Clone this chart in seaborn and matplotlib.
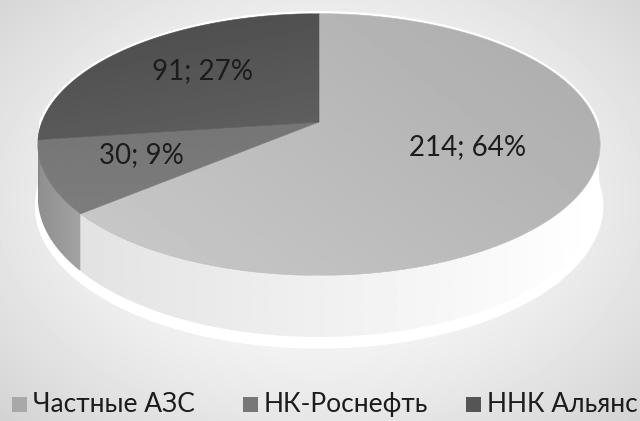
import numpy as np
import matplotlib
matplotlib.use("Agg")
import matplotlib.pyplot as plt
import seaborn as sns
from matplotlib.patches import Polygon, Rectangle

# ── data ─────────────────────────────────────────────
categories = ["Частные АЗС", "НК-Роснефть", "ННК Альянс"]
values = [214, 30, 91]
percents = [64, 9, 27]

# (start, end) grey levels for gradient fills
top_grey = [(0.67, 0.79), (0.46, 0.49), (0.29, 0.38)]
side_grey = [(0.89, 1.0), (0.56, 0.64), (0.52, 0.58)]
legend_colors = ["#a8a8a8", "#777777", "#555555"]

sns.set_theme(style="white")
plt.rcParams["font.family"] = ["Lato", "DejaVu Sans"]

fig = plt.figure(figsize=(6.4, 4.21), dpi=100)
ax = fig.add_axes([0, 0, 1, 1])
ax.set_xlim(0, 640)
ax.set_ylim(421, 0)
ax.axis("off")

# background: soft radial gradient
yy, xx = np.mgrid[0:421, 0:640]
r = np.sqrt(((xx - 320) / 420.0) ** 2 + ((yy - 200) / 300.0) ** 2)
bg = 1.0 - 0.16 * np.clip(r, 0, 1.2) ** 1.6
ax.imshow(bg, cmap="gray", vmin=0, vmax=1, extent=[0, 640, 421, 0], zorder=0)

# ── 3D pie geometry (perspective tilted disc) ───────
cx, cy = 319, 122
a, b, k = 277, 127, 0.172
depth = 51


def proj(theta_deg, z=0.0, grow=0.0):
    t = np.radians(theta_deg)
    u, v = np.cos(t), np.sin(t)
    s = 1.0 / (1.0 + k * v)
    x = cx + (a + grow) * u * s
    y = cy - (b + grow) * v * s + z * depth * s
    return np.column_stack([np.atleast_1d(x), np.atleast_1d(y)])


def grad_fill(poly, g0, g1, direction, z, edge=True):
    # polygon filled with a linear grey gradient (direction: unit vector in px)
    patch = Polygon(poly, closed=True, fc="none", ec="none", zorder=z)
    ax.add_patch(patch)
    x0, y0 = poly.min(axis=0)
    x1, y1 = poly.max(axis=0)
    gy, gx = np.mgrid[y0:y1:200j, x0:x1:200j]
    proj_d = gx * direction[0] + gy * direction[1]
    t = (proj_d - proj_d.min()) / max(proj_d.max() - proj_d.min(), 1e-9)
    img = g0 + (g1 - g0) * t
    im = ax.imshow(img, cmap="gray", vmin=0, vmax=1, extent=[x0, x1, y1, y0],
                   zorder=z, interpolation="bilinear")
    im.set_clip_path(patch)
    if edge:
        ax.add_patch(Polygon(poly, closed=True, fc="none",
                             ec=str((g0 + g1) / 2), lw=0.4, zorder=z))


total = float(sum(values))
fracs = [v / total for v in values]

# white halo under the pie
th_top = np.linspace(0, 180, 120)
th_bot = np.linspace(180, 360, 160)
halo = np.vstack([proj(th_top, 0, 3), proj(th_bot, 1, 3) + [0, 8]])
ax.add_patch(Polygon(halo, closed=True, fc="white", ec="none", zorder=1))

# slice angles (clockwise from 12 o'clock)
starts, ends = [], []
cur = 90.0
for f in fracs:
    starts.append(cur)
    ends.append(cur - f * 360)
    cur -= f * 360

# side walls (front half only)
for i in range(len(values)):
    lo, hi = ends[i], starts[i]
    lo2, hi2 = max(lo, -180.0), min(hi, 0.0)
    if lo2 >= hi2:
        continue
    th = np.linspace(lo2, hi2, 80)
    poly = np.vstack([proj(th, 0), proj(th[::-1], 1)])
    g0, g1 = side_grey[i]
    grad_fill(poly, g0, g1, (1.0, 0.0), 2, edge=False)

# top faces
top_dirs = [(-0.6, 0.8), (0.0, 1.0), (0.2, 1.0)]
for i in range(len(values)):
    th = np.linspace(starts[i], ends[i], 150)
    poly = np.vstack([[cx, cy], proj(th, 0)])
    g0, g1 = top_grey[i]
    grad_fill(poly, g0, g1, top_dirs[i], 3)

# data labels
label_pos = [(468, 147), (141, 155), (202, 71)]
for (lx, ly), v, p in zip(label_pos, values, percents):
    ax.text(lx, ly, f"{v}; {p}%", ha="center", va="center", fontsize=20,
            color="#1c1c1c", zorder=5)

# legend
leg_x = [12, 243, 466]
for x0, name, col in zip(leg_x, categories, legend_colors):
    ax.add_patch(Rectangle((x0, 397), 15, 15, fc=col, ec="none", zorder=5))
    ax.text(x0 + 21, 404.5, name, ha="left", va="center", fontsize=19,
            color="#1c1c1c", zorder=5)

fig.savefig("out.png", dpi=100)
